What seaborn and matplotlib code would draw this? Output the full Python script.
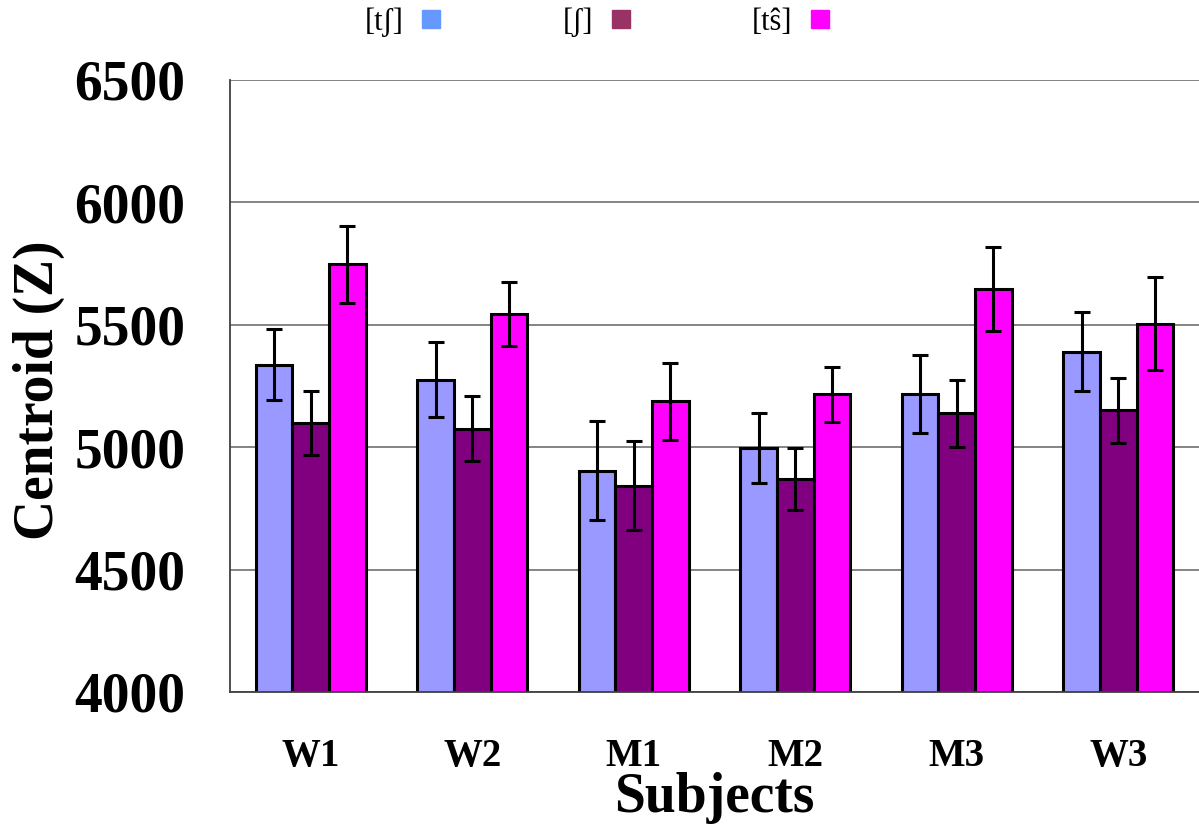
import numpy as np
import pandas as pd
import matplotlib
matplotlib.use("Agg")
import matplotlib.pyplot as plt
from matplotlib.lines import Line2D
import seaborn as sns

# Mean spectral centroid per subject and sound, with error margins
subjects = ["W1", "W2", "M1", "M2", "M3", "W3"]
sounds = ["[tʃ]", "[ʃ]", "[tŝ]"]
centroid_tsh = [5336, 5275, 4904, 4998, 5216, 5390]
centroid_sh = [5100, 5076, 4843, 4870, 5138, 5151]
centroid_ts = [5747, 5544, 5187, 5216, 5645, 5505]
err_tsh = [145, 153, 203, 143, 160, 161]
err_sh = [130, 133, 183, 126, 138, 132]
err_ts = [157, 130, 158, 112, 171, 190]
y_ticks = [4000, 4500, 5000, 5500, 6000, 6500]

bar_colors = ["#9999FF", "#800080", "#FF00FF"]
legend_colors = ["#6699FF", "#993366", "#FF00FF"]

means = [centroid_tsh, centroid_sh, centroid_ts]
errs = [err_tsh, err_sh, err_ts]
df = pd.DataFrame({
    "subject": np.tile(subjects, len(sounds)),
    "sound": np.repeat(sounds, len(subjects)),
    "centroid": np.concatenate(means),
    "err": np.concatenate(errs),
})

sns.set_style("white")
plt.rcParams["font.family"] = ["Liberation Serif", "DejaVu Serif"]
plt.rcParams["text.color"] = "black"
plt.rcParams["axes.labelcolor"] = "black"
plt.rcParams["xtick.color"] = "black"
plt.rcParams["ytick.color"] = "black"

fig = plt.figure(figsize=(11.99, 8.26), dpi=100)
ax = fig.add_axes([230 / 1199, 134 / 826, 969 / 1199, 612 / 826])

sns.barplot(data=df, x="subject", y="centroid", hue="sound",
            order=subjects, hue_order=sounds, palette=bar_colors,
            saturation=1, width=0.68, errorbar=None, edgecolor="black",
            linewidth=2.2, legend=False, ax=ax, zorder=2)

# error bars on the centres of the drawn bars
for cont, sound in zip(ax.containers, sounds):
    sub = df[df["sound"] == sound].set_index("subject").loc[subjects]
    xs = [p.get_x() + p.get_width() / 2 for p in cont.patches]
    ax.errorbar(xs, sub["centroid"].values, yerr=sub["err"].values,
                fmt="none", ecolor="black", elinewidth=2.2,
                capsize=6, capthick=2.2, zorder=3)

ax.set_ylim(y_ticks[0], y_ticks[-1])
ax.set_xlim(-0.5, len(subjects) - 0.5)
ax.set_yticks(y_ticks)
ax.set_yticklabels([str(v) for v in y_ticks])
ax.yaxis.grid(True, color="#707070", linewidth=1.2, zorder=0)
ax.xaxis.grid(False)
ax.set_axisbelow(True)

for side in ["top", "right"]:
    ax.spines[side].set_visible(False)
for side in ["left", "bottom"]:
    ax.spines[side].set_color("#404040")
    ax.spines[side].set_linewidth(1.3)

ax.tick_params(axis="y", which="major", direction="out", length=13,
               width=1.0, color="#404040", pad=19, labelsize=40)
ax.set_xticks(np.arange(-0.5, len(subjects), 1.0), minor=True)
ax.tick_params(axis="x", which="major", length=0, pad=33, labelsize=28)
ax.tick_params(axis="x", which="minor", direction="out", length=9.5,
               width=1.0, color="#404040")
for lbl in ax.get_yticklabels() + ax.get_xticklabels():
    lbl.set_fontweight("bold")

ax.set_xlabel("Subjects", fontsize=40, fontweight="bold")
ax.set_ylabel("Centroid (Z)", fontsize=40, fontweight="bold")
ax.xaxis.set_label_coords(0.5, -0.131)
ax.yaxis.set_label_coords(-0.170, 0.493)

handles = [Line2D([0], [0], marker="s", linestyle="none", markersize=12.5,
                  markerfacecolor=c, markeredgecolor=c) for c in legend_colors]
fig.legend(handles, sounds, loc="center", bbox_to_anchor=(597 / 1199, 1 - 22 / 826),
           ncol=3, frameon=False, markerfirst=False, fontsize=22,
           handlelength=0.6, handletextpad=0.6, columnspacing=4.0,
           borderpad=0, borderaxespad=0)

fig.savefig("out.png", dpi=100)
